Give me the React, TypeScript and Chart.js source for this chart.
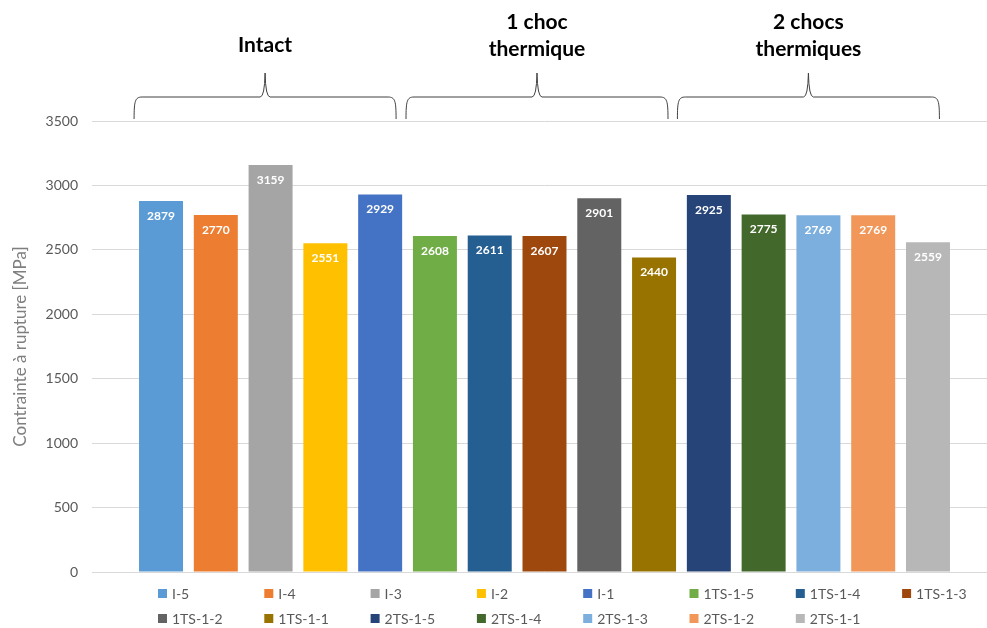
import React, { useEffect, useRef } from 'react';
import { Chart, registerables } from 'chart.js';
Chart.register(...registerables);

const seriesNames = ['I-5', 'I-4', 'I-3', 'I-2', 'I-1', '1TS-1-5', '1TS-1-4', '1TS-1-3', '1TS-1-2', '1TS-1-1', '2TS-1-5', '2TS-1-4', '2TS-1-3', '2TS-1-2', '2TS-1-1'];
const seriesValues = [2879, 2770, 3159, 2551, 2929, 2608, 2611, 2607, 2901, 2440, 2925, 2775, 2769, 2769, 2559];
const seriesColors = ['#5B9BD5', '#ED7D31', '#A5A5A5', '#FFC000', '#4472C4', '#70AD47', '#255E91', '#9E480E', '#636363', '#997300', '#264478', '#43682B', '#7CAFDD', '#F1975A', '#B7B7B7'];
const groupTitles = [['Intact'], ['1 choc', 'thermique'], ['2 chocs', 'thermiques']];
const groupSizes = [5, 5, 5];
const yMin = 0;
const yMax = 3500;
const yStep = 500;
const yTitle = 'Contrainte à rupture [MPa]';

const FONT = 'Lato, "Open Sans", sans-serif';

const valueLabels = {
  id: 'valueLabels',
  afterDatasetsDraw(chart: any) {
    const ctx = chart.ctx;
    ctx.save();
    ctx.font = `bold 12px ${FONT}`;
    ctx.fillStyle = '#ffffff';
    ctx.textAlign = 'center';
    ctx.textBaseline = 'middle';
    chart.data.datasets.forEach((ds: any, i: number) => {
      const el = chart.getDatasetMeta(i).data[0];
      if (!el) return;
      ctx.fillText(String(ds.data[0]), el.x, el.y + 15);
    });
    ctx.restore();
  },
};

const braces = {
  id: 'braces',
  afterDraw(chart: any) {
    const ctx = chart.ctx;
    const shifts = [-5.5, -7.5, -10];
    let start = 0;
    ctx.save();
    groupSizes.forEach((n, g) => {
      const first = chart.getDatasetMeta(start).data[0] as any;
      const last = chart.getDatasetMeta(start + n - 1).data[0] as any;
      start += n;
      const l0 = first.x - first.width / 2;
      const r0 = last.x + last.width / 2;
      const c = (l0 + r0) / 2 + shifts[g];
      const L = c - 131;
      const R = c + 131;
      const yb = 119;
      const yh = 97;
      const yt = 73;
      ctx.strokeStyle = '#404040';
      ctx.lineWidth = 1;
      ctx.beginPath();
      ctx.moveTo(L, yb);
      ctx.bezierCurveTo(L, 101, L + 1, yh, L + 8, yh);
      ctx.lineTo(c - 5, yh);
      ctx.quadraticCurveTo(c - 0.5, yh, c, yt);
      ctx.quadraticCurveTo(c + 0.5, yh, c + 5, yh);
      ctx.lineTo(R - 8, yh);
      ctx.bezierCurveTo(R - 1, yh, R, 101, R, yb);
      ctx.stroke();
      ctx.fillStyle = '#000000';
      ctx.font = `bold 21px ${FONT}`;
      ctx.textAlign = 'center';
      ctx.textBaseline = 'middle';
      const lines = groupTitles[g];
      if (lines.length === 1) {
        ctx.fillText(lines[0], c, 45);
      } else {
        lines.forEach((t, k) => ctx.fillText(t, c, 22 + k * 27));
      }
    });
    ctx.restore();
  },
};

const customLegend = {
  id: 'customLegend',
  afterDraw(chart: any) {
    const ctx = chart.ctx;
    ctx.save();
    ctx.font = `14px ${FONT}`;
    ctx.textBaseline = 'middle';
    ctx.textAlign = 'left';
    chart.data.datasets.forEach((ds: any, i: number) => {
      const col = i % 8;
      const row = Math.floor(i / 8);
      const x = 158 + col * 106.3;
      const y = 593 + row * 25;
      ctx.fillStyle = ds.backgroundColor;
      ctx.fillRect(x, y - 4, 9, 9);
      ctx.fillStyle = '#595959';
      ctx.fillText(ds.label, x + 14, y + 1);
    });
    ctx.restore();
  },
};

export default function App() {
  const ref = useRef<HTMLCanvasElement>(null);
  useEffect(() => {
    const chart = new Chart(ref.current!, {
      type: 'bar',
      data: {
        labels: [''],
        datasets: seriesNames.map((name, i) => ({
          label: name,
          data: [seriesValues[i]],
          backgroundColor: seriesColors[i],
          borderWidth: 0,
          categoryPercentage: 0.908,
          barPercentage: 0.803,
        })),
      },
      options: {
        animation: false,
        responsive: true,
        maintainAspectRatio: false,
        layout: { padding: { top: 121, bottom: 56, left: 0, right: 3 } },
        plugins: {
          legend: { display: false },
          tooltip: { enabled: false },
          title: { display: false },
        },
        scales: {
          x: {
            ticks: { display: false },
            grid: { display: false },
            border: { display: false },
            afterFit(scale: any) {
              scale.height = 0;
            },
          },
          y: {
            min: yMin,
            max: yMax,
            ticks: {
              stepSize: yStep,
              color: '#595959',
              font: { family: FONT, size: 14 },
              padding: 14,
              callback: (v: any) => String(v),
            },
            grid: { color: '#d9d9d9', drawTicks: false },
            border: { display: false },
            title: {
              display: true,
              text: yTitle,
              color: '#7f7f7f',
              font: { family: FONT, size: 17 },
              padding: { top: 10, bottom: 0 },
            },
            afterFit(scale: any) {
              scale.width = 92;
            },
          },
        },
      },
      plugins: [valueLabels, braces, customLegend],
    });
    return () => chart.destroy();
  }, []);
  return (
    <div style={{ position: 'fixed', left: 0, top: 0, width: 987, height: 628, overflow: 'hidden', background: '#ffffff' }}>
      <div style={{ position: 'relative', width: 1000, height: 628 }}>
        <canvas ref={ref} />
      </div>
    </div>
  );
}
